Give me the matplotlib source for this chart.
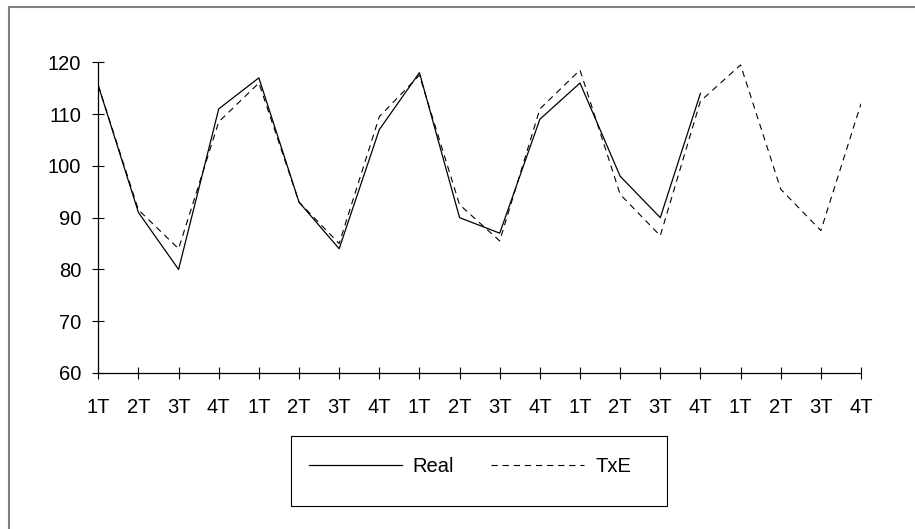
import matplotlib
matplotlib.use('Agg')
import matplotlib.pyplot as plt
from matplotlib.patches import Rectangle
import numpy as np

# 季度标签 (5 年 x 4 季度)
quarters = ['1T', '2T', '3T', '4T'] * 5
# 实际值
real = [115.5, 91, 80, 111, 117, 93, 84, 107, 118, 90, 87, 109, 116, 98, 90, 114]
# 模型估计值
txe = [115.5, 91.5, 84, 108.5, 116, 93, 85, 109.5, 117.5, 92.5, 85.5, 111,
       118.5, 94.5, 86.5, 112.5, 119.5, 95.5, 87.5, 112]

plt.rcParams['font.family'] = ['Liberation Sans', 'DejaVu Sans']
plt.rcParams['lines.scale_dashes'] = False

W, H = 915, 529
fig = plt.figure(figsize=(W / 100, H / 100), dpi=100)
ax = fig.add_axes([98.3 / W, 1 - 373 / H, 762.7 / W, 310.7 / H])

ax.plot(np.arange(len(real)), real, color='black', lw=0.9, label='Real')
ax.plot(np.arange(len(txe)), txe, color='black', lw=0.8, dashes=(4.5, 3.5), label='TxE')

ax.set_xlim(0, len(quarters) - 1)
ax.set_ylim(60, 120)
ax.set_xticks(np.arange(len(quarters)))
ax.set_xticklabels(quarters)
ax.set_yticks(np.arange(60, 121, 10))

for s in ['top', 'right']:
    ax.spines[s].set_visible(False)
for s in ['left', 'bottom']:
    ax.spines[s].set_linewidth(0.9)
ax.tick_params(axis='both', direction='inout', length=8.6, width=0.8, labelsize=14.5, colors='black')
ax.tick_params(axis='x', pad=14)
ax.tick_params(axis='y', pad=8)

# 图例
fig.legend(loc='center left', bbox_to_anchor=(309 / W, 1 - 466.7 / H), ncol=2,
           frameon=False, fontsize=14.5, handlelength=4.6, handletextpad=0.55,
           columnspacing=1.85, borderpad=0, borderaxespad=0)
fig.patches.append(Rectangle((291 / W, 1 - 506 / H), 376 / W, 70 / H,
                             transform=fig.transFigure, fill=False,
                             edgecolor='black', lw=0.8))
# 外框
fig.patches.append(Rectangle((9 / W, -0.1), 2, 1.1 - 7 / H,
                             transform=fig.transFigure, fill=False,
                             edgecolor='#808080', lw=1.5))

plt.savefig('out.png', dpi=100)
